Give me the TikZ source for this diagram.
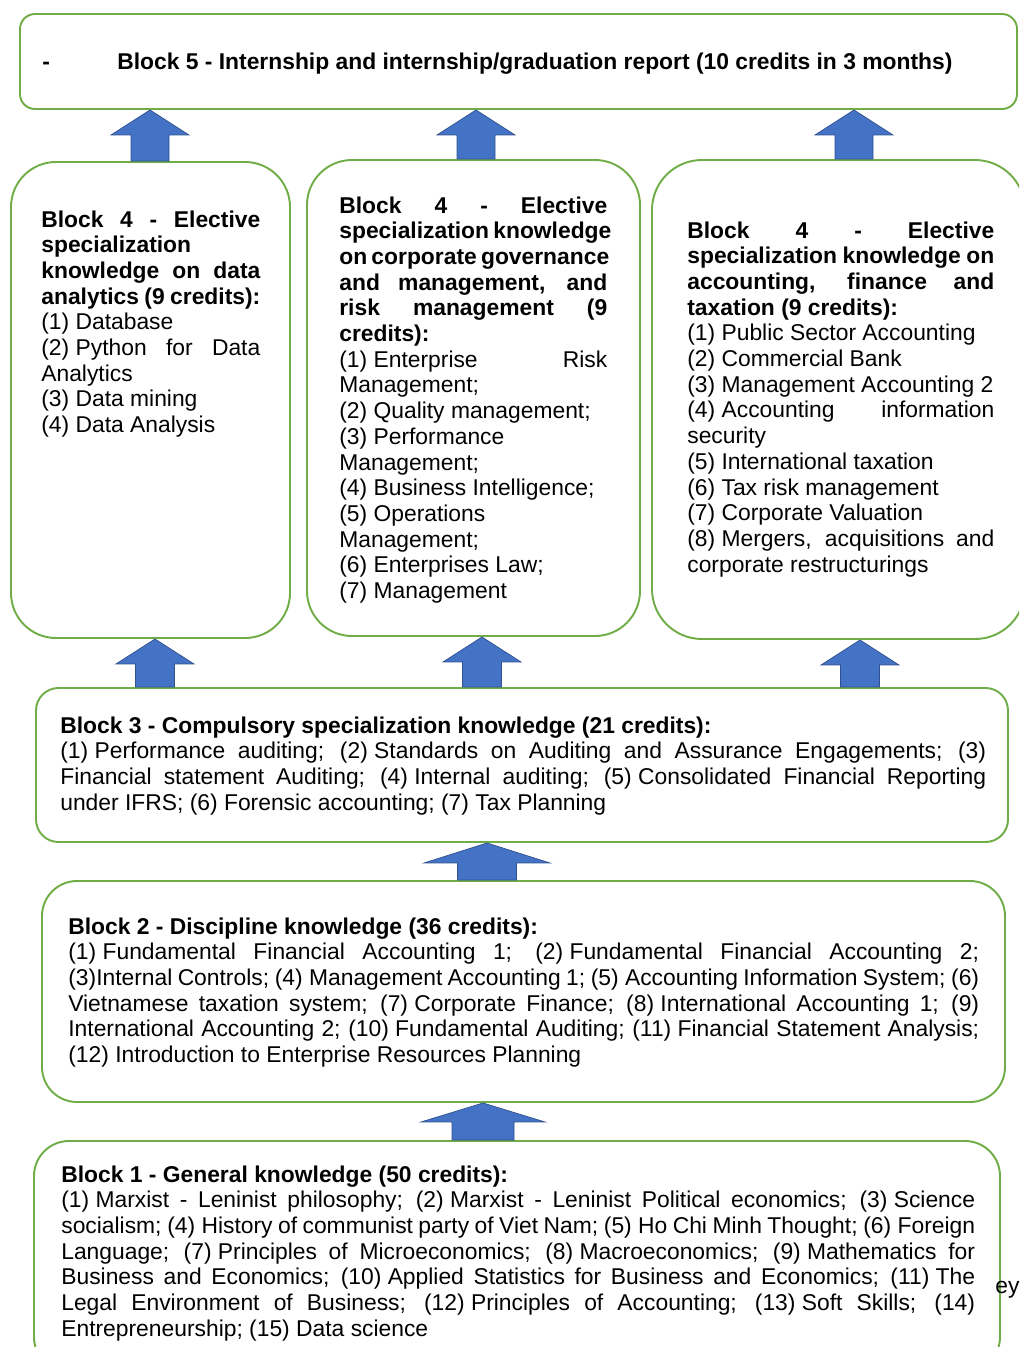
\documentclass[tikz,border=0pt]{standalone}
\usepackage{fontspec}
\setmainfont{Liberation Sans}
\usetikzlibrary{calc,fit}

\definecolor{boxgreen}{RGB}{112,173,71}
\definecolor{arrowblue}{RGB}{68,114,196}
\definecolor{arrowedge}{RGB}{47,82,143}

% justified line
\newcommand\jl[1]{{\spaceskip=0pt\xspaceskip=0pt\makebox[\linewidth][s]{#1}}}
\newcommand\fsp{\hspace{0.278em}} % space that does not stretch
% block arrow: x, lower box, upper box, shaft half, head half, head length
\newcommand\blockup[6]{%
  \path (#2.north -| #1,0) coordinate (base) (#3.south -| #1,0) coordinate (tip);
  \draw[blockarr] ($(base)+(-#4,0)$) -- ($(tip)+(-#4,#6)$) -- ($(tip)+(-#5,#6)$)
    -- (tip) -- ($(tip)+(#5,#6)$) -- ($(tip)+(#4,#6)$) -- ($(base)+(#4,0)$) -- cycle;}

\begin{document}
\begin{tikzpicture}[x=0.02cm,y=-0.02cm,
  box/.style={draw=boxgreen,line width=1.1pt,inner sep=0pt,rounded corners=#1},
  box/.default=0.9cm,
  txt/.style={anchor=base west,inner sep=0pt,
    font=\fontsize{13}{14.63}\selectfont},
  para/.style={txt,align=justify,text width=#1},
  blockarr/.style={fill=arrowblue,draw=arrowedge,line width=0.4pt}]

\useasboundingbox (0,0) rectangle (1019,1347);
\clip (0,0) rectangle (1019,1347);

% boxes
\node[box=0.3cm, fit={(20,14) (1017,109)}] (b5) {};
\node[box, fit={(11,162) (290,638)}] (b4a) {};
\node[box, fit={(307,160) (640,636)}] (b4b) {};
\node[box=1cm, fit={(652,160) (1025,639)}] (b4c) {};
\node[box=0.45cm, fit={(36,688) (1008,842)}] (b3) {};
\node[box=0.7cm, fit={(42,881) (1005,1102)}] (b2) {};
\node[box=0.7cm, fit={(34,1141) (1000,1372)}] (b1) {};

% arrows between blocks
\blockup{150}{b4a}{b5}{19}{39}{25}
\blockup{476}{b4b}{b5}{19}{39}{25}
\blockup{854}{b4c}{b5}{19}{39}{25}
\blockup{155}{b3}{b4a}{19.5}{39}{25}
\blockup{482}{b3}{b4b}{19.5}{39}{25}
\blockup{860}{b3}{b4c}{19.5}{39}{25}
\blockup{487}{b2}{b3}{29.5}{63}{20}
\blockup{483}{b1}{b2}{31}{62}{19}

% texts
\node[txt] (dash) at (42,69) {\textbf{-}};
\node[txt] (t5) at (117,69)
  {\textbf{Block 5 - Internship and internship/graduation report (10 credits in 3 months)}};

\node[para=4.38cm] (t4a) at (41,227) {%
\jl{\bfseries Block 4 - Elective}\\
\textbf{specialization}\\
\jl{\bfseries knowledge on data}\\
\textbf{analytics (9 credits):}\\
(1) Database\\
\jl{(2)\fsp Python for Data}\\
Analytics\\
(3) Data mining\\
(4) Data Analysis};

\node[para=5.36cm] (t4b) at (339,213) {%
\jl{\bfseries Block 4 - Elective}\\
\jl{\bfseries specialization knowledge}\\
\jl{\bfseries on corporate governance}\\
\jl{\bfseries and management, and}\\
\jl{\bfseries risk management (9}\\
\textbf{credits):}\\
\jl{(1)\fsp Enterprise Risk}\\
Management;\\
(2) Quality management;\\
(3) Performance\\
Management;\\
(4) Business Intelligence;\\
(5) Operations\\
Management;\\
(6) Enterprises Law;\\
(7) Management};

\node[para=6.14cm] (t4c) at (687,238) {%
\jl{\bfseries Block 4 - Elective}\\
\jl{\bfseries specialization knowledge on}\\
\jl{\bfseries accounting, finance and}\\
\textbf{taxation (9 credits):}\\
(1) Public Sector Accounting\\
(2) Commercial Bank\\
(3) Management Accounting 2\\
\jl{(4)\fsp Accounting information}\\
security\\
(5) International taxation\\
(6) Tax risk management\\
(7) Corporate Valuation\\
\jl{(8)\fsp Mergers, acquisitions and}\\
corporate restructurings};

\node[para=18.52cm] (t3) at (60,733) {%
\textbf{Block 3 - Compulsory specialization knowledge (21 credits):}\\
\jl{(1)\fsp Performance auditing; (2)\fsp Standards on Auditing and Assurance Engagements; (3)}\\
\jl{Financial statement Auditing; (4)\fsp Internal auditing; (5)\fsp Consolidated Financial Reporting}\\
under IFRS; (6) Forensic accounting; (7) Tax Planning};

\node[para=18.22cm] (t2) at (68,934) {%
\textbf{Block 2 - Discipline knowledge (36 credits):}\\
\jl{(1)\fsp Fundamental Financial Accounting 1; (2)\fsp Fundamental Financial Accounting 2;}\\
\jl{(3)Internal Controls; (4)\fsp Management Accounting 1; (5)\fsp Accounting Information System; (6)}\\
\jl{Vietnamese taxation system; (7)\fsp Corporate Finance; (8)\fsp International Accounting 1; (9)}\\
\jl{International Accounting 2; (10)\fsp Fundamental Auditing; (11)\fsp Financial Statement Analysis;}\\
(12) Introduction to Enterprise Resources Planning};

\node[para=18.28cm] (t1) at (61,1182) {%
\textbf{Block 1 - General knowledge (50 credits):}\\
\jl{(1)\fsp Marxist - Leninist philosophy; (2)\fsp Marxist - Leninist Political economics; (3)\fsp Science}\\
\jl{socialism; (4)\fsp History of communist party of Viet Nam; (5)\fsp Ho Chi Minh Thought; (6)\fsp Foreign}\\
\jl{Language; (7)\fsp Principles of Microeconomics; (8)\fsp Macroeconomics; (9)\fsp Mathematics for}\\
\jl{Business and Economics; (10)\fsp Applied Statistics for Business and Economics; (11)\fsp The}\\
\jl{Legal Environment of Business; (12)\fsp Principles of Accounting; (13)\fsp Soft Skills; (14)}\\
Entrepreneurship; (15) Data science};

\node[txt] (ey) at (995,1293) {ey};

\end{tikzpicture}
\end{document}
